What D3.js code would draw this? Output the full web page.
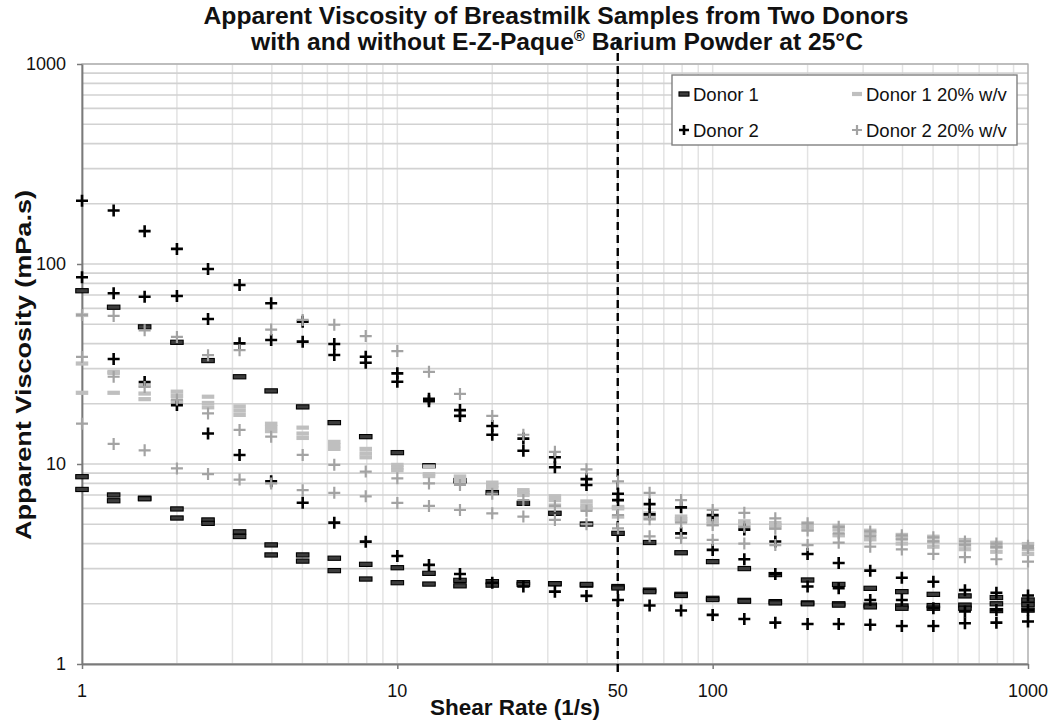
<!DOCTYPE html>
<html>
<head>
<meta charset="utf-8">
<script src="https://cdn.jsdelivr.net/npm/d3@7.9.0/dist/d3.min.js"></script>
<style>
  body { margin: 0; background: #fff; }
  svg text { font-family: "Liberation Sans", Arial, sans-serif; fill: #111; }
</style>
</head>
<body>
<svg id="chart" width="1050" height="720"></svg>
<script>
// shear rates (1/s), 10 points per decade
const shearRates = [1, 1.26, 1.58, 2, 2.51, 3.16, 3.98, 5.01, 6.31, 7.94, 10, 12.6, 15.8, 20, 25.1, 31.6, 39.8, 50.1, 63.1, 79.4, 100, 126, 158, 200, 251, 316, 398, 501, 631, 794, 1000];

// Donor 1, three runs (mPa.s)
const donor1Run1 = [73.5, 60.8, 48.5, 40.6, 32.9, 27.3, 23.2, 19.3, 16.1, 13.7, 11.4, 9.8, 8.25, 7.2, 6.36, 5.67, 5.01, 4.5, 4.05, 3.6, 3.25, 3.0, 2.8, 2.63, 2.5, 2.39, 2.3, 2.23, 2.19, 2.15, 2.09];
const donor1Run2 = [8.64, 7.0, 6.75, 5.96, 5.25, 4.58, 3.94, 3.51, 3.38, 3.15, 3.03, 2.84, 2.62, 2.58, 2.55, 2.52, 2.48, 2.44, 2.34, 2.23, 2.13, 2.08, 2.05, 2.02, 2.0, 1.97, 1.95, 1.96, 1.97, 2.0, 1.98];
const donor1Run3 = [7.46, 6.55, 6.7, 5.37, 5.05, 4.34, 3.51, 3.27, 2.93, 2.66, 2.55, 2.51, 2.46, 2.48, 2.5, 2.52, 2.5, 2.4, 2.3, 2.2, 2.1, 2.06, 2.02, 2.0, 1.97, 1.93, 1.9, 1.9, 1.9, 1.85, 1.86];

// Donor 2, three runs
const donor2Run1 = [207, 185, 146, 119, 94.4, 78.5, 63.6, 51.5, 39.8, 34.4, 28.4, 21.2, 18.6, 15.5, 13.4, 10.8, 8.4, 7.1, 6.3, 6.07, 5.55, 4.7, 4.1, 3.55, 3.2, 2.93, 2.7, 2.58, 2.34, 2.27, 2.2];
const donor2Run2 = [85.8, 71.4, 68.6, 69.2, 53.1, 40.1, 41.7, 40.9, 35.1, 32.1, 25.8, 20.6, 17.4, 14.0, 11.65, 9.63, 7.85, 6.6, 5.6, 4.5, 3.72, 3.34, 2.82, 2.44, 2.39, 2.09, 2.09, 1.9, 1.83, 1.86, 1.86];
const donor2Run3 = [null, 33.5, 25.7, 19.7, 14.2, 11.1, 8.2, 6.4, 5.09, 4.09, 3.47, 3.13, 2.82, 2.55, 2.44, 2.3, 2.19, 2.09, 1.96, 1.85, 1.76, 1.68, 1.61, 1.585, 1.585, 1.57, 1.55, 1.55, 1.6, 1.61, 1.63];

// Donor 1 with 20% w/v barium
const donor1BaRun1 = [55.6, 28.9, 24.7, 23.0, 21.7, 19.4, 15.9, 15.2, 12.9, 11.9, 9.9, 9.7, 8.66, 8.07, 7.4, 6.9, 6.5, 6.1, 5.66, 5.46, 5.4, 5.17, 5.07, 5.05, 4.9, 4.64, 4.42, 4.33, 4.17, 4.04, 3.98];
const donor1BaRun2 = [31.8, 28.5, 22.5, 21.9, 20.2, 18.5, 15.3, 14.2, 12.4, 11.3, 9.6, 8.9, 8.4, 7.8, 7.2, 6.6, 6.2, 6.0, 5.5, 5.3, 5.2, 5.0, 4.95, 4.9, 4.7, 4.45, 4.25, 4.1, 3.95, 3.85, 3.75];
const donor1BaRun3 = [22.7, 22.7, 21.1, 20.5, 19.2, 17.6, 14.6, 13.5, 11.9, 10.8, 9.3, 8.7, 8.2, 7.6, 7.0, 6.2, 6.0, 5.46, 5.35, 5.17, 5.0, 4.77, 4.8, 4.7, 4.4, 4.2, 4.0, 3.86, 3.75, 3.64, 3.55];

// Donor 2 with 20% w/v barium
const donor2BaRun1 = [55.6, 55.0, 46.6, 43.2, 35.0, 37.1, 47.0, 52.5, 49.7, 43.6, 36.7, 28.9, 22.4, 17.4, 14.0, 11.5, 9.4, 8.18, 7.18, 6.6, 5.89, 5.7, 5.35, 5.05, 4.85, 4.6, 4.4, 4.3, 4.1, 4.0, 3.9];
const donor2BaRun2 = [34.3, 27.3, 24.3, 21.0, 17.9, 14.8, 13.7, 11.1, 9.9, 9.16, 8.48, 8.0, 7.86, 7.1, 6.6, 6.17, 5.83, 5.56, 5.3, 5.1, 4.95, 4.85, 4.75, 4.65, 4.5, 4.35, 4.2, 4.1, 3.95, 3.85, 3.8];
const donor2BaRun3 = [15.9, 12.6, 11.7, 9.5, 8.9, 8.36, 8.0, 7.4, 7.18, 6.89, 6.39, 6.17, 5.89, 5.67, 5.46, 5.25, 5.0, 4.77, 4.35, 4.27, 4.17, 4.0, 3.93, 3.93, 4.04, 3.86, 3.74, 3.55, 3.42, 3.34, 3.25];

const axisTicks = [1, 10, 100, 1000];
const xLabelTicks = [1, 10, 50, 100, 1000];
const cutoffRate = 50;

const series = [
    { name: 'Donor 1', runs: [donor1Run1, donor1Run2, donor1Run3], shape: 'dash', color: '#000000', fill: '#3c3c3c' },
    { name: 'Donor 1 20% w/v', runs: [donor1BaRun1, donor1BaRun2, donor1BaRun3], shape: 'dash', color: '#bfbfbf', fill: '#bfbfbf' },
    { name: 'Donor 2', runs: [donor2Run1, donor2Run2, donor2Run3], shape: 'plus', color: '#000000' },
    { name: 'Donor 2 20% w/v', runs: [donor2BaRun1, donor2BaRun2, donor2BaRun3], shape: 'plus', color: '#a3a3a3' },
];

const svg = d3.select('#chart');
const plotLeft = 82, plotRight = 1028, plotTop = 64, plotBottom = 664;

const x = d3.scaleLog().domain([1, 1000]).range([plotLeft, plotRight]);
const y = d3.scaleLog().domain([1, 1000]).range([plotBottom, plotTop]);

// gridlines
const grid = svg.append('g');
grid.selectAll('line.v')
    .data(x.ticks())
    .join('line')
    .attr('class', 'v')
    .attr('x1', d => x(d)).attr('x2', d => x(d))
    .attr('y1', plotTop).attr('y2', plotBottom)
    .attr('stroke', '#e3e3e3').attr('stroke-width', 1.5);
grid.selectAll('line.h')
    .data(y.ticks())
    .join('line')
    .attr('class', 'h')
    .attr('x1', plotLeft).attr('x2', plotRight)
    .attr('y1', d => y(d)).attr('y2', d => y(d))
    .attr('stroke', '#d2d2d2').attr('stroke-width', 1.6);

svg.append('rect')
    .attr('x', plotLeft).attr('y', plotTop)
    .attr('width', plotRight - plotLeft).attr('height', plotBottom - plotTop)
    .attr('fill', 'none').attr('stroke', '#a8a8a8').attr('stroke-width', 1.2);

// axes
const yAxis = svg.append('g')
    .attr('transform', `translate(${plotLeft},0)`)
    .call(d3.axisLeft(y).tickValues(axisTicks).tickFormat(d3.format('d')).tickSize(5).tickSizeOuter(0).tickPadding(11));
const xAxis = svg.append('g')
    .attr('transform', `translate(0,${plotBottom})`)
    .call(d3.axisBottom(x).tickValues(axisTicks).tickFormat('').tickSize(5).tickSizeOuter(0));

[yAxis, xAxis].forEach(g => {
    g.select('.domain').attr('stroke', '#7a7a7a').attr('stroke-width', 1.8);
    g.selectAll('.tick line').attr('stroke', '#7a7a7a').attr('stroke-width', 1.5);
});
yAxis.selectAll('.tick text').attr('font-size', 18).attr('fill', '#111');

svg.append('g').selectAll('text')
    .data(xLabelTicks)
    .join('text')
    .attr('x', d => x(d)).attr('y', 697)
    .attr('text-anchor', 'middle')
    .attr('font-size', 18)
    .text(d => d);

// cutoff line at 50 1/s
svg.append('line')
    .attr('x1', x(cutoffRate)).attr('x2', x(cutoffRate))
    .attr('y1', 40).attr('y2', 677)
    .attr('stroke', '#000').attr('stroke-width', 2.4)
    .attr('stroke-dasharray', '8,5');

// markers
function drawMarker(g, s, cx, cy, size) {
    if (s.shape === 'dash') {
        g.append('rect')
            .attr('x', cx - size / 2).attr('y', cy - 2.1)
            .attr('width', size).attr('height', 4.2)
            .attr('fill', s.fill)
            .attr('stroke', s.color).attr('stroke-width', s.color === s.fill ? 0 : 1.1);
    } else {
        const h = size / 2;
        g.append('path')
            .attr('d', `M${cx - h},${cy}H${cx + h}M${cx},${cy - h}V${cy + h}`)
            .attr('stroke', s.color)
            .attr('stroke-width', s.color === '#000000' ? 2.6 : 2.2)
            .attr('fill', 'none');
    }
}

const marks = svg.append('g');
series.forEach(s => {
    const g = marks.append('g');
    s.runs.forEach(run => {
        run.forEach((v, i) => {
            if (v == null) return;
            drawMarker(g, s, x(shearRates[i]), y(v), s.shape === 'dash' ? 12.5 : 12);
        });
    });
});

// legend
const legend = svg.append('g');
legend.append('rect')
    .attr('x', 672).attr('y', 75).attr('width', 345).attr('height', 70)
    .attr('fill', '#fff').attr('stroke', '#808080').attr('stroke-width', 1.4);
const legendPos = [
    { s: series[0], x: 684, y: 94 },
    { s: series[1], x: 857, y: 94 },
    { s: series[2], x: 684, y: 130 },
    { s: series[3], x: 857, y: 130 },
];
legendPos.forEach(p => {
    drawMarker(legend, p.s, p.x, p.y, 10);
    legend.append('text')
        .attr('x', p.x + 9).attr('y', p.y + 6.5)
        .attr('font-size', 18.5)
        .text(p.s.name);
});

// titles
svg.append('text')
    .attr('x', 556).attr('y', 24)
    .attr('text-anchor', 'middle')
    .attr('font-weight', 'bold')
    .attr('font-size', 23)
    .attr('textLength', 705).attr('lengthAdjust', 'spacingAndGlyphs')
    .text('Apparent Viscosity of Breastmilk Samples from Two Donors');
const line2 = svg.append('text')
    .attr('x', 557).attr('y', 50)
    .attr('text-anchor', 'middle')
    .attr('font-weight', 'bold')
    .attr('font-size', 23)
    .attr('textLength', 612).attr('lengthAdjust', 'spacingAndGlyphs');
line2.append('tspan').text('with and without E-Z-Paque');
line2.append('tspan').attr('font-size', 14).attr('dy', -9).text('®');
line2.append('tspan').attr('dy', 9).text(' Barium Powder at 25°C');

svg.append('text')
    .attr('x', 515).attr('y', 715)
    .attr('text-anchor', 'middle')
    .attr('font-weight', 'bold')
    .attr('font-size', 22.5)
    .text('Shear Rate (1/s)');

svg.append('text')
    .attr('transform', 'translate(31,365) rotate(-90)')
    .attr('text-anchor', 'middle')
    .attr('font-weight', 'bold')
    .attr('font-size', 22.5)
    .attr('textLength', 350).attr('lengthAdjust', 'spacingAndGlyphs')
    .text('Apparent Viscosity (mPa.s)');
</script>
</body>
</html>
